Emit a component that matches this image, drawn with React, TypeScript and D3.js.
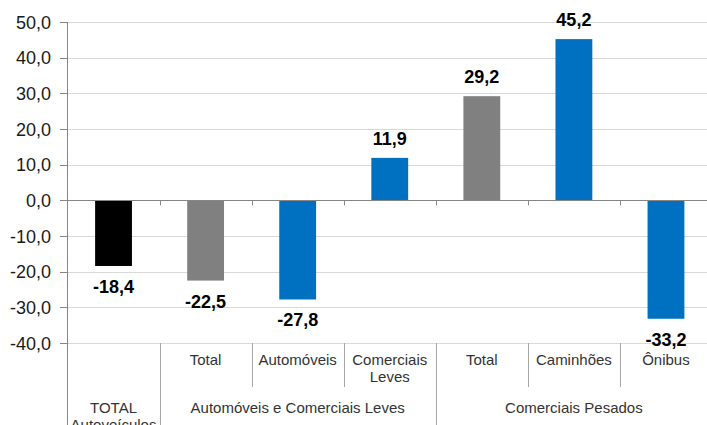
import React from "react";
import * as d3 from "d3";

const categoryKeys = ["total", "ac_total", "automoveis", "com_leves", "cp_total", "caminhoes", "onibus"];
const subLabels: string[][] = [[], ["Total"], ["Automóveis"], ["Comerciais", "Leves"], ["Total"], ["Caminhões"], ["Ônibus"]];
const values = [-18.4, -22.5, -27.8, 11.9, 29.2, 45.2, -33.2];
const barColors = ["#000000", "#808080", "#0070C0", "#0070C0", "#808080", "#0070C0", "#0070C0"];
const groupLabels: string[][] = [["TOTAL", "Autoveículos"], ["Automóveis e Comerciais Leves"], ["Comerciais Pesados"]];
const groupStarts = [0, 1, 4];
const groupEnds = [1, 4, 7];
const yTicks = [-40, -30, -20, -10, 0, 10, 20, 30, 40, 50];

const fmt = (v: number) => v.toFixed(1).replace(".", ",");

export default function App() {
  const W = 707, H = 425;
  const x0 = 67.5, x1 = 712;
  const y = d3.scaleLinear().domain([-40, 50]).range([343, 22]);
  const x = d3.scaleBand<string>().domain(categoryKeys).range([x0, x1]).padding(0);
  const bw = x.bandwidth();
  const barW = bw * 0.4;
  const font = "Arial, 'Liberation Sans', sans-serif";
  const edge = (i: number) => (i >= categoryKeys.length ? x1 : (x(categoryKeys[i]) as number));

  return (
    <svg width={W} height={H} style={{ position: "absolute", left: 0, top: 0 }} fontFamily={font}>
      {/* gridlines */}
      {yTicks.filter(t => t !== 0).map(t => (
        <line key={"g" + t} x1={x0} x2={W} y1={Math.round(y(t)) + 0.5} y2={Math.round(y(t)) + 0.5} stroke="#d9d9d9" strokeWidth={1} />
      ))}
      {/* y ticks and labels */}
      {yTicks.map(t => (
        <g key={"t" + t}>
          <line x1={60} x2={x0} y1={Math.round(y(t)) + 0.5} y2={Math.round(y(t)) + 0.5} stroke="#868686" />
          <text x={51} y={y(t) + 6.5} textAnchor="end" fontSize={18} fill="#1a1a1a">{fmt(t)}</text>
        </g>
      ))}
      {/* bars */}
      {values.map((v, i) => {
        const cx = (x(categoryKeys[i]) as number) + bw / 2;
        const top = y(Math.max(0, v));
        const bot = y(Math.min(0, v));
        return (
          <g key={"b" + i}>
            <rect x={cx - barW / 2} y={top} width={barW} height={bot - top} fill={barColors[i]} />
            <text x={cx} y={v >= 0 ? y(v) - 13 : y(v) + 27} textAnchor="middle" fontSize={18} fontWeight="bold" fill="#000">{fmt(v)}</text>
          </g>
        );
      })}
      {/* zero line with ticks */}
      <line x1={x0} x2={W} y1={Math.round(y(0)) + 0.5} y2={Math.round(y(0)) + 0.5} stroke="#868686" />
      {categoryKeys.slice(1).map((k, i) => {
        const xx = Math.round(x(k) as number) + 0.5;
        return <line key={"zt" + i} x1={xx} x2={xx} y1={y(0)} y2={y(0) + 5} stroke="#868686" />;
      })}
      {/* y axis line */}
      <line x1={x0} x2={x0} y1={y(50)} y2={H} stroke="#868686" />
      {/* category separators */}
      {categoryKeys.slice(1).map((k, i) => {
        const idx = i + 1;
        const isGroup = groupStarts.includes(idx);
        const xx = Math.round(x(k) as number) + 0.5;
        return <line key={"s" + i} x1={xx} x2={xx} y1={343} y2={isGroup ? H : 387} stroke="#a6a6a6" />;
      })}
      {/* sub labels */}
      {subLabels.map((lines, i) => {
        const cx = (x(categoryKeys[i]) as number) + bw / 2;
        return lines.map((l, j) => (
          <text key={"sl" + i + "-" + j} x={cx} y={365 + j * 17} textAnchor="middle" fontSize={15} fill="#333">{l}</text>
        ));
      })}
      {/* group labels */}
      {groupLabels.map((lines, g) => {
        const cx = (edge(groupStarts[g]) + edge(groupEnds[g])) / 2;
        return lines.map((l, j) => (
          <text key={"gl" + g + "-" + j} x={cx} y={413 + j * 17} textAnchor="middle" fontSize={15} fill="#333">{l}</text>
        ));
      })}
    </svg>
  );
}
